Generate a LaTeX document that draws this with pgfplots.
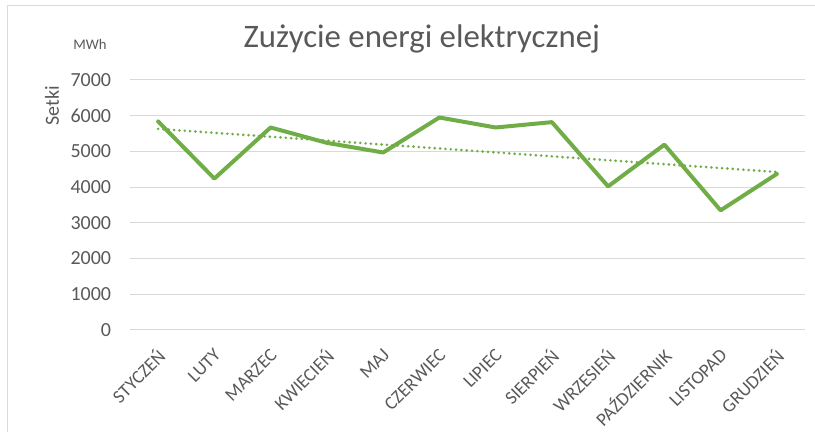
\documentclass[border=0pt]{standalone}
\usepackage{fontspec}
\setmainfont{Carlito}
\usepackage{pgfplots}
\usepackage{pgfplotstable}
\pgfplotsset{compat=1.18}
\definecolor{grn}{HTML}{70AD47}
\definecolor{txt}{HTML}{595959}
\definecolor{grd}{HTML}{D9D9D9}
\pgfplotstableread{
x y
0 5840
1 4240
2 5670
3 5240
4 4970
5 5950
6 5670
7 5820
8 4020
9 5190
10 3350
11 4370
}\data
\begin{document}
\begin{tikzpicture}[x=1pt,y=1pt]
\useasboundingbox (0,0) rectangle (611.25,324);
\draw[grd, line width=0.75pt] (5.25,0) -- (5.25,319.5) -- (611.25,319.5);
\node[anchor=base, text=txt, font=\fontsize{24.6}{28}\selectfont] at (316.3,288.2) {Zużycie energi elektrycznej};
\node[text=txt, font=\fontsize{11}{13}\selectfont] at (67.5,291) {MWh};
\node[text=txt, rotate=90, font=\fontsize{15}{17}\selectfont] at (39,244.5) {Setki};
\begin{axis}[
  at={(97.5pt,76.5pt)}, anchor=south west,
  scale only axis, width=506.25pt, height=187.5pt,
  xmin=-0.5, xmax=11.5, ymin=0, ymax=7000,
  ytick={0,1000,...,7000},
  xtick={0,...,11},
  xticklabels={STYCZEŃ,LUTY,MARZEC,KWIECIEŃ,MAJ,CZERWIEC,LIPIEC,SIERPIEŃ,WRZESIEŃ,PAŹDZIERNIK,LISTOPAD,GRUDZIEŃ},
  axis line style={draw=none},
  major tick length=0pt,
  ymajorgrids,
  grid style={grd, line width=0.75pt},
  tick label style={text=txt},
  yticklabel style={font=\fontsize{15}{17}\selectfont, anchor=east, inner sep=0pt, xshift=-14pt},
  xticklabel style={font=\fontsize{14}{16}\selectfont, rotate=45, anchor=east, inner sep=0pt, xshift=-10pt, yshift=-13.5pt},
  /pgf/number format/assume math mode=true,
  /pgf/number format/1000 sep={},
  scaled y ticks=false,
  clip=false,
]
\addplot[grn, line width=3pt, line join=round, line cap=round] table[x=x, y=y] {\data};
\addplot[grn, line width=2.2pt, line cap=round, dash pattern=on 0pt off 4pt] table[x=x, y={create col/linear regression={y=y}}] {\data};
\end{axis}
\end{tikzpicture}
\end{document}
